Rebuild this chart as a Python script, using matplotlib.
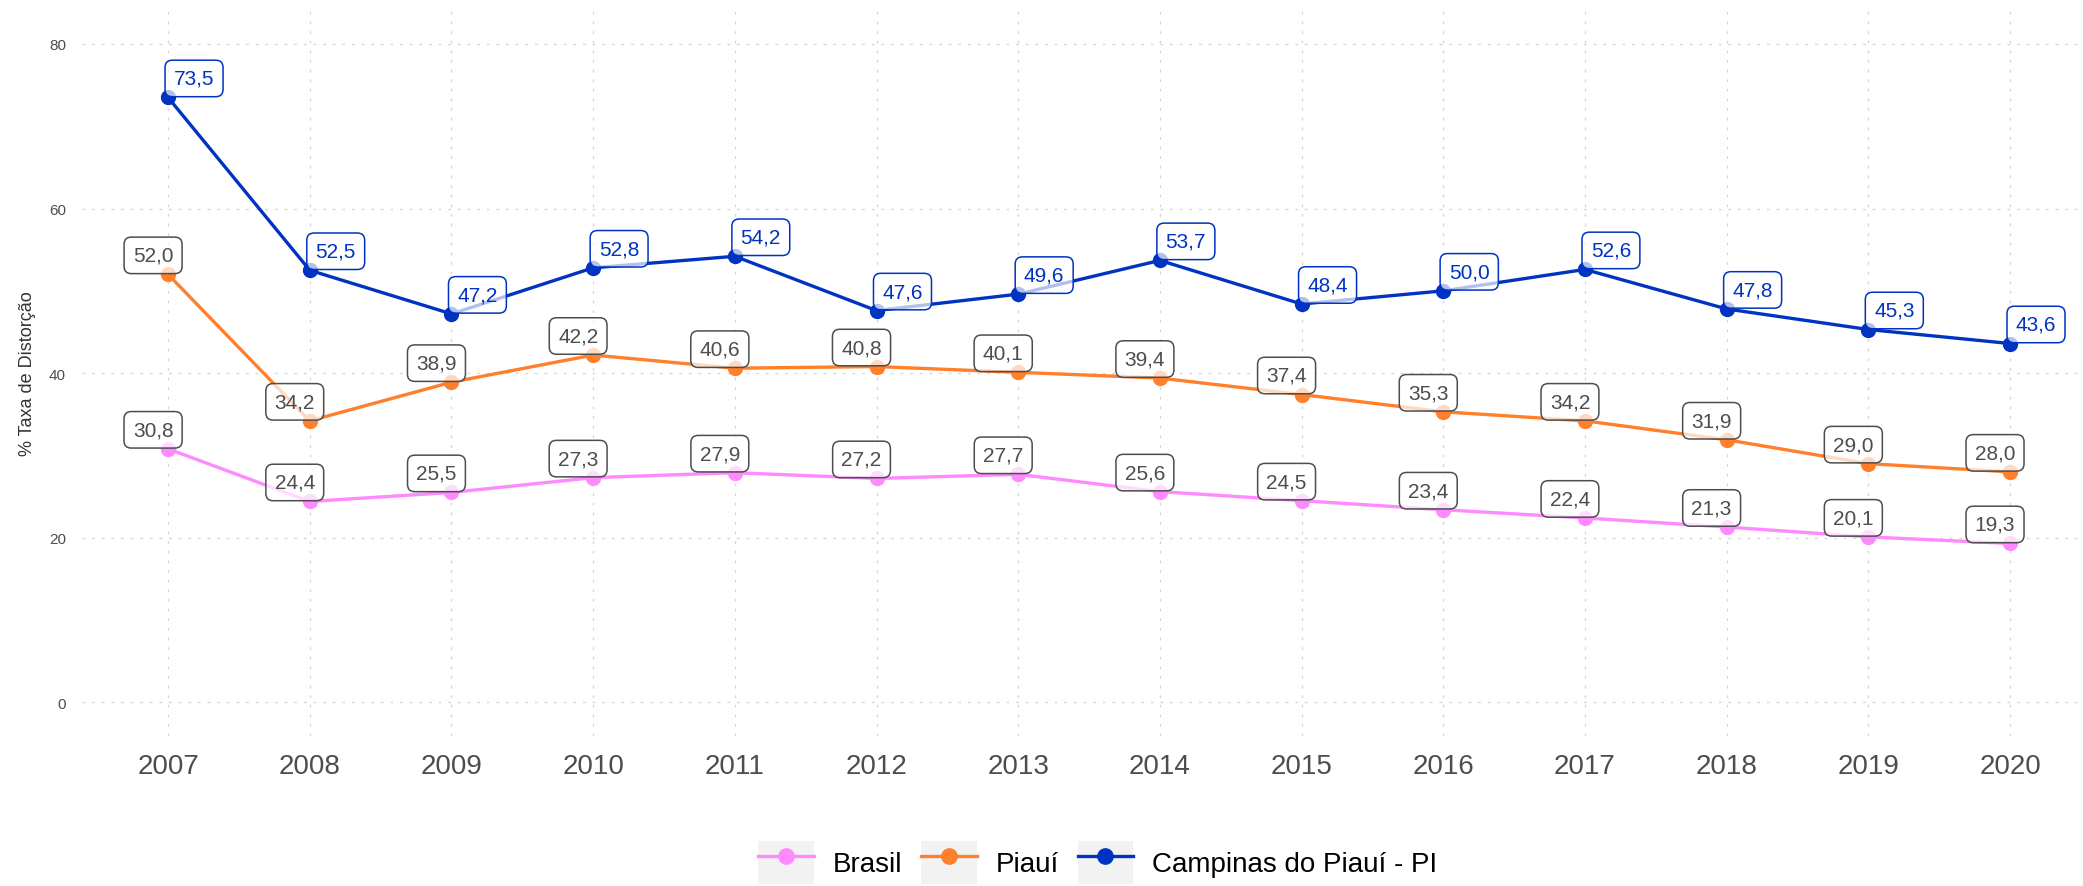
from matplotlib import pyplot as plt
from matplotlib.patches import Rectangle
from matplotlib.lines import Line2D
from matplotlib.legend_handler import HandlerTuple

anos = [2007, 2008, 2009, 2010, 2011, 2012, 2013,
        2014, 2015, 2016, 2017, 2018, 2019, 2020]
brasil = [30.8, 24.4, 25.5, 27.3, 27.9, 27.2, 27.7,
          25.6, 24.5, 23.4, 22.4, 21.3, 20.1, 19.3]
piaui = [52.0, 34.2, 38.9, 42.2, 40.6, 40.8, 40.1,
         39.4, 37.4, 35.3, 34.2, 31.9, 29.0, 28.0]
campinas = [73.5, 52.5, 47.2, 52.8, 54.2, 47.6, 49.6,
            53.7, 48.4, 50.0, 52.6, 47.8, 45.3, 43.6]
nomes = ["Brasil", "Piauí", "Campinas do Piauí - PI"]
y_ticks = [0, 20, 40, 60, 80]

plt.rcParams['font.family'] = ['Liberation Sans', 'DejaVu Sans']

CINZA = "#4D4D4D"
cores = ["#FF8AFF", "#FF7F2A", "#0033C1"]
series = [brasil, piaui, campinas]


def fmt(v):
    return f"{v:.1f}".replace(".", ",")


def grafico():
    fig = plt.figure(figsize=(20.83, 8.87), dpi=100)
    ax = fig.add_axes([0.0394, 0.1691, 0.9606, 0.8196])

    for valores, cor in zip(series, cores):
        ax.plot(anos, valores, color=cor, lw=2.4, marker="o",
                markersize=10, zorder=3)

    # rótulos: Brasil e Piauí em cinza, Campinas em azul
    for i, (valores, cor) in enumerate(zip(series, cores)):
        destaque = i == 2
        cor_txt = cor if destaque else CINZA
        dx = 18.7 if destaque else -10.8
        for x, v in zip(anos, valores):
            ax.annotate(fmt(v), (x, v), xytext=(dx, 13.7),
                        textcoords="offset points", ha="center",
                        va="center", fontsize=15, color=cor_txt,
                        zorder=5,
                        bbox=dict(boxstyle="round,pad=0.42,rounding_size=0.35",
                                  facecolor=(1, 1, 1, 0.7),
                                  edgecolor=cor_txt, linewidth=1.1))

    ax.set_xlim(2006.393, 2020.515)
    ax.set_ylim(-4.1, 84.25)
    ax.set_xticks(anos)
    ax.set_xticklabels([str(a) for a in anos])
    ax.set_yticks(y_ticks)
    ax.tick_params(axis="x", length=0, pad=12, labelsize=20,
                   labelcolor=CINZA)
    ax.tick_params(axis="y", length=0, pad=11.5, labelsize=11,
                   labelcolor=CINZA)
    ax.grid(True, color="#D4D4D4", lw=0.9, linestyle=(0, (2.2, 5.5)))
    ax.set_axisbelow(True)
    for s in ax.spines.values():
        s.set_visible(False)

    ax.set_ylabel("% Taxa de Distorção", fontsize=13, color="#333333")
    ax.yaxis.set_label_coords(-0.023, 0.5)

    handles = []
    for cor in cores:
        fundo = Rectangle((0, 0), 1, 1, facecolor="#F2F2F2",
                          edgecolor="none")
        linha = Line2D([], [], color=cor, lw=2.4, marker="o",
                       markersize=11)
        handles.append((fundo, linha))
    fig.legend(handles, nomes, loc="center",
               bbox_to_anchor=(0.527, 0.027), ncol=3, frameon=False,
               fontsize=20, handlelength=2.0, handleheight=2.0,
               handletextpad=0.68, columnspacing=0.68,
               handler_map={tuple: HandlerTuple(ndivide=1, pad=0)})

    fig.savefig("out.png", dpi=100, facecolor="white")


if __name__ == "__main__":
    grafico()
